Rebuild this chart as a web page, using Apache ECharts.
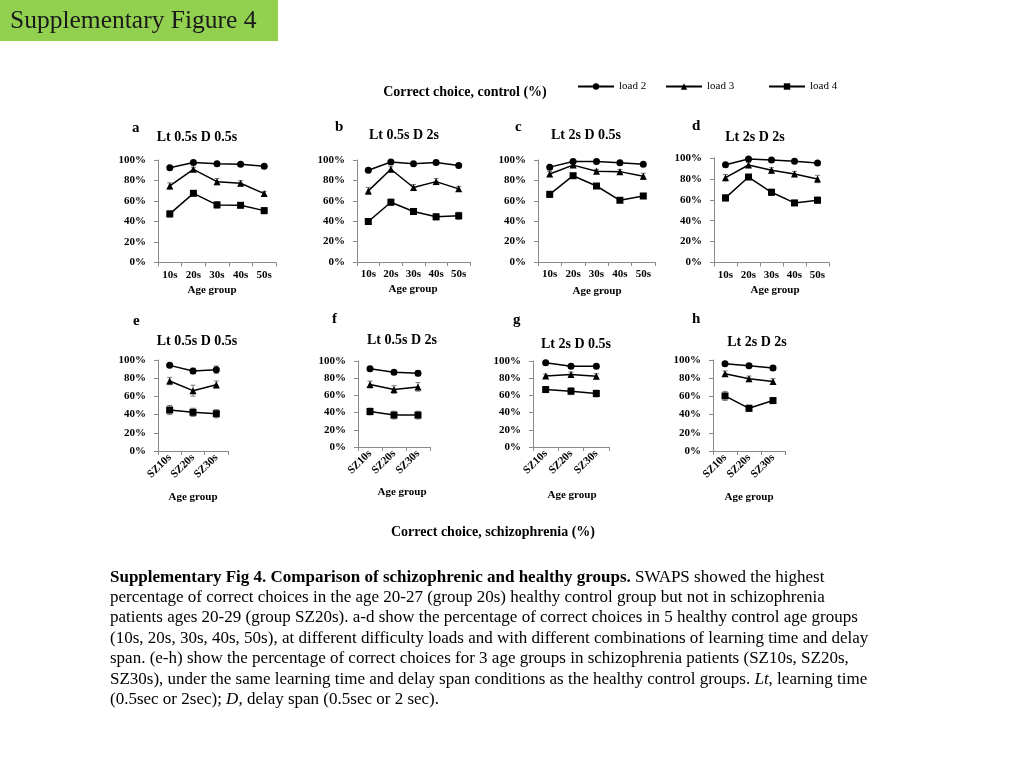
<!DOCTYPE html>
<html><head><meta charset="utf-8">
<script src="https://cdn.jsdelivr.net/npm/echarts@6/dist/echarts.min.js"></script>
<style>html,body{margin:0;padding:0;background:#fff}#c{width:1024px;height:768px}</style>
</head><body><div id="c"></div>
<script>
// ---------- DATA ----------
const controlCats = ['10s', '20s', '30s', '40s', '50s'];
const szCats = ['SZ10s', 'SZ20s', 'SZ30s'];
const yTicks = [0, 20, 40, 60, 80, 100];
const seriesNames = ['load 2', 'load 3', 'load 4'];

// control panels (a-d): mean values
const a_load2 = [92.5, 97.5, 96.4, 95.8, 93.8];
const a_load3 = [74.7, 90.9, 78.9, 77.3, 67.2];
const a_load4 = [47.4, 67.5, 56.2, 55.8, 50.6];
const b_load2 = [89.9, 98.0, 96.4, 97.5, 94.5];
const b_load3 = [69.7, 90.9, 73.0, 78.8, 71.7];
const b_load4 = [39.7, 58.6, 49.5, 44.3, 45.3];
const c_load2 = [93.0, 98.5, 98.5, 97.4, 95.8];
const c_load3 = [86.3, 95.0, 88.9, 88.6, 84.0];
const c_load4 = [66.3, 84.6, 74.5, 60.5, 64.7];
const d_load2 = [93.6, 99.0, 98.0, 96.8, 95.2];
const d_load3 = [81.2, 93.3, 88.2, 84.7, 79.9];
const d_load4 = [61.8, 81.8, 67.2, 57.0, 59.6];
// schizophrenia panels (e-h)
const e_load2 = [94.1, 87.9, 89.4];
const e_load3 = [76.9, 66.3, 72.9];
const e_load4 = [45.0, 42.5, 41.0];
const f_load2 = [91.1, 86.9, 85.7];
const f_load3 = [72.6, 66.8, 69.9];
const f_load4 = [41.3, 37.1, 37.1];
const g_load2 = [98.0, 93.8, 93.8];
const g_load3 = [82.6, 84.2, 82.2];
const g_load4 = [66.8, 64.9, 62.2];
const h_load2 = [96.0, 93.7, 91.1];
const h_load3 = [84.9, 79.3, 76.4];
const h_load4 = [60.5, 46.9, 55.4];

// error bar half-widths (SEM, %)
const a_err2 = [1.5, 1, 1, 1, 1];     const a_err3 = [3, 2, 3, 2.5, 2];     const a_err4 = [3, 2, 3, 2, 3];
const b_err2 = [1.5, 1, 1, 1, 1];     const b_err3 = [3.5, 2.5, 3, 3, 2.5]; const b_err4 = [2.5, 3, 3, 3, 3.5];
const c_err2 = [1.5, 1, 1, 1, 1];     const c_err3 = [2.5, 1.5, 2, 2, 3];   const c_err4 = [3, 1.5, 2, 1.5, 2.5];
const d_err2 = [1.5, 1, 1, 1, 1];     const d_err3 = [3, 2.5, 2.5, 2.5, 3.5]; const d_err4 = [3, 1.5, 3, 2.5, 3];
const e_err2 = [2, 3, 4];   const e_err3 = [4, 6, 4];     const e_err4 = [5, 4.5, 4.5];
const f_err2 = [2, 2, 3];   const f_err3 = [4, 4.5, 5];   const f_err4 = [4, 4.5, 4.5];
const g_err2 = [1.5, 2, 2.5]; const g_err3 = [2, 3, 3];   const g_err4 = [3.5, 4, 4];
const h_err2 = [1.5, 2, 2.5]; const h_err3 = [3, 3, 3];   const h_err4 = [5, 3.5, 3];

// panel texts
const panelLetters = ['a', 'b', 'c', 'd', 'e', 'f', 'g', 'h'];
const panelTitles = ['Lt 0.5s D 0.5s', 'Lt 0.5s D 2s', 'Lt 2s D 0.5s', 'Lt 2s D 2s',
                     'Lt 0.5s D 0.5s', 'Lt 0.5s D 2s', 'Lt 2s D 0.5s', 'Lt 2s D 2s'];
const xAxisTitle = 'Age group';
const topHeading = 'Correct choice, control (%)';
const bottomHeading = 'Correct choice, schizophrenia (%)';
const figTitle = 'Supplementary Figure 4';

// ---------- LAYOUT ----------
const SERIF = 'Liberation Serif';
const panels = [
  {cats: controlCats, vals: [a_load2, a_load3, a_load4], errs: [a_err2, a_err3, a_err4], grid: [158, 160, 118, 102.5], letter: [137, 130], title: [197, 137], xt: [212, 290]},
  {cats: controlCats, vals: [b_load2, b_load3, b_load4], errs: [b_err2, b_err3, b_err4], grid: [357, 160, 113, 102], letter: [340, 129], title: [404, 135], xt: [413, 289]},
  {cats: controlCats, vals: [c_load2, c_load3, c_load4], errs: [c_err2, c_err3, c_err4], grid: [538, 160, 117, 102], letter: [520, 129], title: [586, 135], xt: [597, 291]},
  {cats: controlCats, vals: [d_load2, d_load3, d_load4], errs: [d_err2, d_err3, d_err4], grid: [714, 158, 115, 104.5], letter: [697, 128], title: [755, 137], xt: [775, 290]},
  {cats: szCats, vals: [e_load2, e_load3, e_load4], errs: [e_err2, e_err3, e_err4], grid: [158, 360, 70, 91], letter: [138, 323], title: [197, 341], xt: [193, 497], rot: true},
  {cats: szCats, vals: [f_load2, f_load3, f_load4], errs: [f_err2, f_err3, f_err4], grid: [358, 361, 72, 86], letter: [337, 321], title: [402, 340], xt: [402, 492], rot: true},
  {cats: szCats, vals: [g_load2, g_load3, g_load4], errs: [g_err2, g_err3, g_err4], grid: [533, 361, 76, 86], letter: [518, 322], title: [576, 344], xt: [572, 495], rot: true},
  {cats: szCats, vals: [h_load2, h_load3, h_load4], errs: [h_err2, h_err3, h_err4], grid: [713, 360, 72, 91], letter: [697, 321], title: [757, 342], xt: [749, 497], rot: true}
];
const symbols = ['circle', 'triangle', 'rect'];
const symbolSizes = [7, 7, 7];

const grids = [], xAxes = [], yAxes = [], series = [], graphics = [];
const axisColor = '#8a8a8a';

function errRender(params, api) {
  const x = api.value(0);
  const lo = api.coord([x, api.value(1)]);
  const hi = api.coord([x, api.value(2)]);
  const w = 2.5;
  const st = {stroke: '#7a7a7a', lineWidth: 1};
  return {type: 'group', children: [
    {type: 'line', shape: {x1: lo[0], y1: lo[1], x2: hi[0], y2: hi[1]}, style: st},
    {type: 'line', shape: {x1: lo[0] - w, y1: lo[1], x2: lo[0] + w, y2: lo[1]}, style: st},
    {type: 'line', shape: {x1: hi[0] - w, y1: hi[1], x2: hi[0] + w, y2: hi[1]}, style: st}
  ]};
}

panels.forEach((p, i) => {
  const [l, t, w, h] = p.grid;
  grids.push({left: l, top: t, width: w, height: h, containLabel: false});
  xAxes.push({
    type: 'category', gridIndex: i, data: p.cats, boundaryGap: true,
    axisLine: {lineStyle: {color: axisColor, width: 1}},
    axisTick: {show: true, length: 4, alignWithLabel: false, lineStyle: {color: axisColor}},
    axisLabel: {interval: 0, color: '#000', fontFamily: SERIF, fontWeight: 'bold', fontSize: 11,
                margin: p.rot ? 5 : 7, rotate: p.rot ? 45 : 0}
  });
  yAxes.push({
    type: 'value', gridIndex: i, min: 0, max: 100, interval: 20,
    splitLine: {show: false},
    axisLine: {show: true, lineStyle: {color: axisColor, width: 1}},
    axisTick: {show: true, length: 4, lineStyle: {color: axisColor}},
    axisLabel: {formatter: '{value}%', color: '#000', fontFamily: SERIF, fontWeight: 'bold', fontSize: 11, margin: 12}
  });
  p.vals.forEach((v, k) => {
    series.push({
      type: 'custom', xAxisIndex: i, yAxisIndex: i, z: 1, silent: true,
      renderItem: errRender,
      data: v.map((val, j) => [j, val - p.errs[k][j], val + p.errs[k][j]])
    });
    series.push({
      type: 'line', name: seriesNames[k], xAxisIndex: i, yAxisIndex: i, z: 3,
      data: v, symbol: symbols[k], symbolSize: symbolSizes[k], showSymbol: true,
      lineStyle: {color: '#000', width: 1.5}, itemStyle: {color: '#000'}, animation: false
    });
  });
  graphics.push({type: 'text', left: p.letter[0] - 5, top: p.letter[1] - 9,
    style: {text: panelLetters[i], font: 'bold 15px "Liberation Serif"', fill: '#000'}});
  graphics.push({type: 'text', x: p.title[0], y: p.title[1],
    style: {text: panelTitles[i], font: 'bold 14px "Liberation Serif"', fill: '#000', align: 'center', verticalAlign: 'middle'}});
  graphics.push({type: 'text', x: p.xt[0], y: p.xt[1],
    style: {text: xAxisTitle, font: 'bold 11px "Liberation Serif"', fill: '#000', align: 'center', verticalAlign: 'middle'}});
});

// header box
graphics.push({type: 'rect', shape: {x: 0, y: 0, width: 278, height: 41}, style: {fill: '#92D050'}});
graphics.push({type: 'text', x: 10, y: 21, style: {text: figTitle, font: '25.5px "Liberation Serif"', fill: '#1a1a1a', verticalAlign: 'middle'}});
graphics.push({type: 'text', x: 465, y: 92, style: {text: topHeading, font: 'bold 14px "Liberation Serif"', fill: '#000', align: 'center', verticalAlign: 'middle'}});
graphics.push({type: 'text', x: 493, y: 532, style: {text: bottomHeading, font: 'bold 14px "Liberation Serif"', fill: '#000', align: 'center', verticalAlign: 'middle'}});

// caption
const captionLines = [
  '{b|Supplementary Fig 4. Comparison of schizophrenic and healthy groups.} SWAPS showed the highest',
  'percentage of correct choices in the age 20-27 (group 20s) healthy control group but not in schizophrenia',
  'patients ages 20-29 (group SZ20s). a-d show the percentage of correct choices in 5 healthy control age groups',
  '(10s, 20s, 30s, 40s, 50s), at different difficulty loads and with different combinations of learning time and delay',
  'span. (e-h) show the percentage of correct choices for 3 age groups in schizophrenia patients (SZ10s, SZ20s,',
  'SZ30s), under the same learning time and delay span conditions as the healthy control groups. {i|Lt}, learning time',
  '(0.5sec or 2sec); {i|D,} delay span (0.5sec or 2 sec).'
];
const captionY = [578, 598, 618, 639, 659, 680, 700];
captionLines.forEach((ln, i) => {
  graphics.push({type: 'text', x: 110, y: captionY[i], style: {
    text: ln, fontFamily: SERIF, fontSize: 17, fill: '#000', verticalAlign: 'middle',
    rich: {b: {fontFamily: SERIF, fontSize: 17, fontWeight: 'bold', fill: '#000'},
           i: {fontFamily: SERIF, fontSize: 17, fontStyle: 'italic', fill: '#000'}}
  }});
});

const legendX = [572, 660, 763];
const legends = seriesNames.map((n, k) => ({
  data: [n], left: legendX[k], top: 76, itemWidth: 36, itemHeight: 8, itemGap: 0,
  textStyle: {fontFamily: SERIF, fontSize: 11, color: '#000'}, selectedMode: false
}));

const chart = echarts.init(document.getElementById('c'), null, {renderer: 'canvas'});
chart.setOption({
  backgroundColor: '#fff', animation: false,
  legend: legends, grid: grids, xAxis: xAxes, yAxis: yAxes, series: series, graphic: graphics
});
</script></body></html>
